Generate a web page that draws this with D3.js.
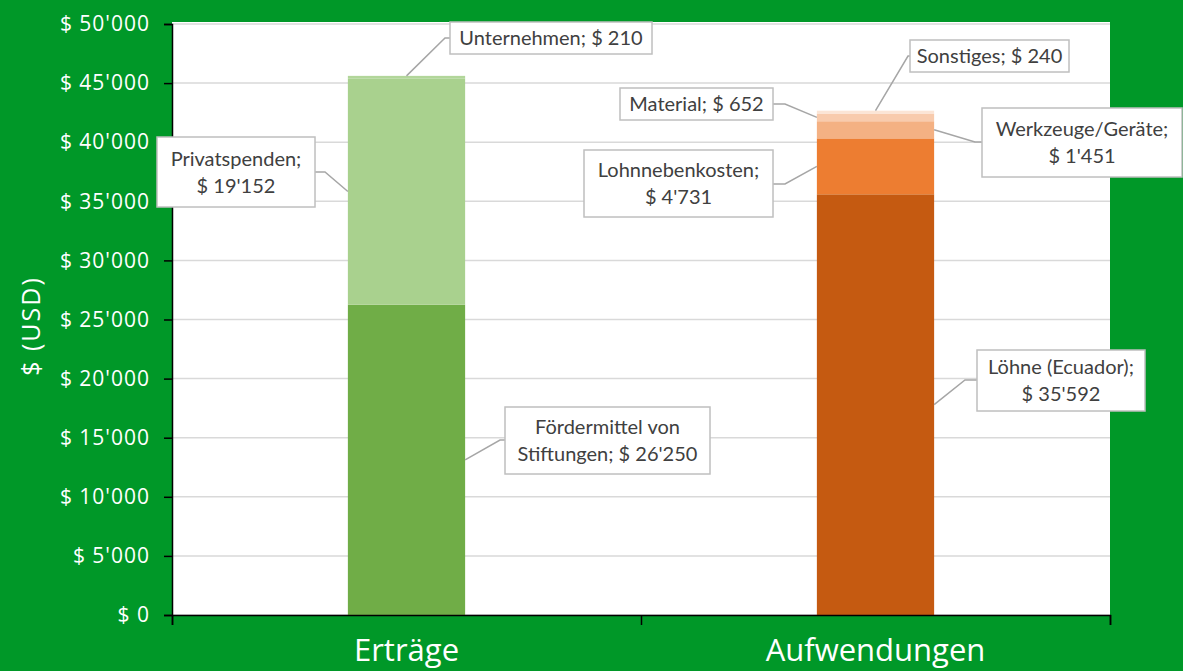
<!DOCTYPE html>
<html>
<head>
<meta charset="utf-8">
<script src="https://cdn.jsdelivr.net/npm/d3@7"></script>
<style>
  body { margin: 0; background: #009828; }
  svg { display: block; }
  .axis text { fill: #fff; font-family: "Open Sans", sans-serif; }
  .lbl { font-family: Lato, "Noto Sans", sans-serif; font-size: 20px; fill: #404040; }
</style>
</head>
<body>
<svg width="1183" height="671"></svg>
<script>
var categories = ["Erträge", "Aufwendungen"];

// stacked from bottom to top
var ertraegeNames = ["Fördermittel von Stiftungen", "Privatspenden", "Unternehmen"];
var ertraegeValues = [26250, 19152, 210];
var aufwandNames = ["Löhne (Ecuador)", "Lohnnebenkosten", "Werkzeuge/Geräte", "Material", "Sonstiges"];
var aufwandValues = [35592, 4731, 1451, 652, 240];

var yTicks = [0, 5000, 10000, 15000, 20000, 25000, 30000, 35000, 40000, 45000, 50000];

var ertraegeColors = ["#70ad47", "#a9d18e", "#b2d69a"];
var aufwandColors = ["#c55a11", "#ed7d31", "#f4b183", "#f8cbad", "#fbe5d6"];

var svg = d3.select("svg"),
    margin = {top: 24, right: 73, bottom: 56, left: 172},
    width = +svg.attr("width") - margin.left - margin.right,
    height = +svg.attr("height") - margin.top - margin.bottom;

svg.append("rect").attr("width", 1183).attr("height", 671).attr("fill", "#009828");

var x = d3.scaleBand().domain(categories).range([0, width]).padding(0),
    y = d3.scaleLinear().domain([0, 50000]).range([height, 0]);

var g = svg.append("g")
    .attr("transform", "translate(" + margin.left + "," + margin.top + ")");

g.append("rect")
    .attr("y", -2)
    .attr("width", width)
    .attr("height", height + 2)
    .attr("fill", "#fff");

// gridlines
g.selectAll(".grid")
    .data(yTicks)
    .enter().append("line")
    .attr("x1", 0).attr("x2", width)
    .attr("y1", function(d) { return y(d); })
    .attr("y2", function(d) { return y(d); })
    .attr("stroke", "#d9d9d9")
    .attr("stroke-width", 1.5);

// bars
var barW = x.bandwidth() * 0.25;
function stack(cat, names, values, colors) {
    var base = 0;
    var out = [];
    values.forEach(function(v, i) {
        out.push({cat: cat, name: names[i], value: v, y0: base, y1: base + v, color: colors[i]});
        base += v;
    });
    return out;
}
var segs = stack(categories[0], ertraegeNames, ertraegeValues, ertraegeColors)
    .concat(stack(categories[1], aufwandNames, aufwandValues, aufwandColors));

g.selectAll(".seg")
    .data(segs)
    .enter().append("rect")
    .attr("x", function(d) { return x(d.cat) + x.bandwidth() / 2 - barW / 2; })
    .attr("width", barW)
    .attr("y", function(d) { return y(d.y1); })
    .attr("height", function(d) { return y(d.y0) - y(d.y1); })
    .attr("fill", function(d) { return d.color; });

// axes
var fmt = function(d) { return "$ " + d3.format(",")(d).replace(/,/g, "'"); };
var yAxis = g.append("g")
    .attr("class", "axis")
    .call(d3.axisLeft(y).tickValues(yTicks).tickSize(8).tickPadding(14).tickFormat(fmt));
yAxis.selectAll("text").style("font-size", "21px").style("letter-spacing", "1px");
yAxis.selectAll("line, path").attr("stroke", "#000").attr("stroke-width", 1.5);

var xb = d3.scaleLinear().domain([0, 2]).range([0, width]);
var xAxis = g.append("g")
    .attr("class", "axis")
    .attr("transform", "translate(0," + height + ")")
    .call(d3.axisBottom(xb).tickValues([0, 1, 2]).tickSize(10).tickSizeOuter(10).tickFormat(""));
xAxis.selectAll("line, path").attr("stroke", "#000").attr("stroke-width", 1.5);

g.selectAll(".cat")
    .data(categories)
    .enter().append("text")
    .attr("class", "cat")
    .attr("x", function(d) { return x(d) + x.bandwidth() / 2; })
    .attr("y", height + 46)
    .attr("text-anchor", "middle")
    .attr("fill", "#fff")
    .style("font-family", "'Open Sans', sans-serif")
    .style("font-size", "31px")
    .text(function(d) { return d; });

svg.append("text")
    .attr("transform", "translate(40," + (margin.top + 302) + ") rotate(-90)")
    .attr("text-anchor", "middle")
    .attr("fill", "#fff")
    .style("font-family", "'Open Sans', sans-serif")
    .style("font-size", "25px")
    .style("letter-spacing", "2px")
    .text("$ (USD)");

// data labels: box placement in page pixels, anchor at segment middle
var money = function(v) { return "$ " + d3.format(",")(v).replace(/,/g, "'"); };
var labelLayout = {
    "Unternehmen":                 {bx: 450, by: 22, bw: 202, bh: 32, lines: 1, anchor: "top", knee: [445, 38]},
    "Privatspenden":               {bx: 157, by: 137, bw: 158, bh: 70, lines: 2, anchor: "left", knee: [325, 172]},
    "Fördermittel von Stiftungen": {bx: 505, by: 407, bw: 205, bh: 67, lines: 2, anchor: "right", knee: [500, 440], split: ["Fördermittel von", "Stiftungen; "]},
    "Löhne (Ecuador)":             {bx: 977, by: 350, bw: 168, bh: 61, lines: 2, anchor: "right", knee: [965, 380]},
    "Lohnnebenkosten":             {bx: 584, by: 150, bw: 189, bh: 67, lines: 2, anchor: "left", knee: [785, 184]},
    "Werkzeuge/Geräte":            {bx: 982, by: 108, bw: 200, bh: 69, lines: 2, anchor: "right", knee: [975, 142]},
    "Material":                    {bx: 620, by: 88, bw: 153, bh: 32, lines: 1, anchor: "left", knee: [785, 104]},
    "Sonstiges":                   {bx: 910, by: 40, bw: 159, bh: 32, lines: 1, anchor: "top", knee: [908, 56]}
};

var lbl = svg.append("g");
segs.forEach(function(d) {
    var L = labelLayout[d.name];
    var cx = margin.left + x(d.cat) + x.bandwidth() / 2;
    var ax, ay;
    if (L.anchor === "top") {
        ax = cx; ay = margin.top + y(d.y1);
    } else {
        ax = L.anchor === "left" ? cx - barW / 2 : cx + barW / 2;
        ay = margin.top + y((d.y0 + d.y1) / 2);
    }
    var ex = L.knee[0] < L.bx ? L.bx : L.bx + L.bw;
    lbl.append("polyline")
        .attr("points", [[ax, ay], L.knee, [ex, L.knee[1]]].map(function(p) { return p.join(","); }).join(" "))
        .attr("fill", "none")
        .attr("stroke", "#a6a6a6")
        .attr("stroke-width", 1.5);
    lbl.append("rect")
        .attr("x", L.bx).attr("y", L.by)
        .attr("width", L.bw).attr("height", L.bh)
        .attr("fill", "#fff")
        .attr("stroke", "#bfbfbf")
        .attr("stroke-width", 1.5);
    var lines;
    if (L.split) lines = [L.split[0], L.split[1] + money(d.value)];
    else if (L.lines === 2) lines = [d.name + ";", money(d.value)];
    else lines = [d.name + "; " + money(d.value)];
    var t = lbl.append("text")
        .attr("class", "lbl")
        .attr("text-anchor", "middle");
    lines.forEach(function(s, i) {
        var lh = 27;
        var y0 = L.by + L.bh / 2 - (lines.length - 1) * lh / 2 + 7;
        t.append("tspan")
            .attr("x", L.bx + L.bw / 2)
            .attr("y", y0 + i * lh)
            .text(s);
    });
});
</script>
</body>
</html>
